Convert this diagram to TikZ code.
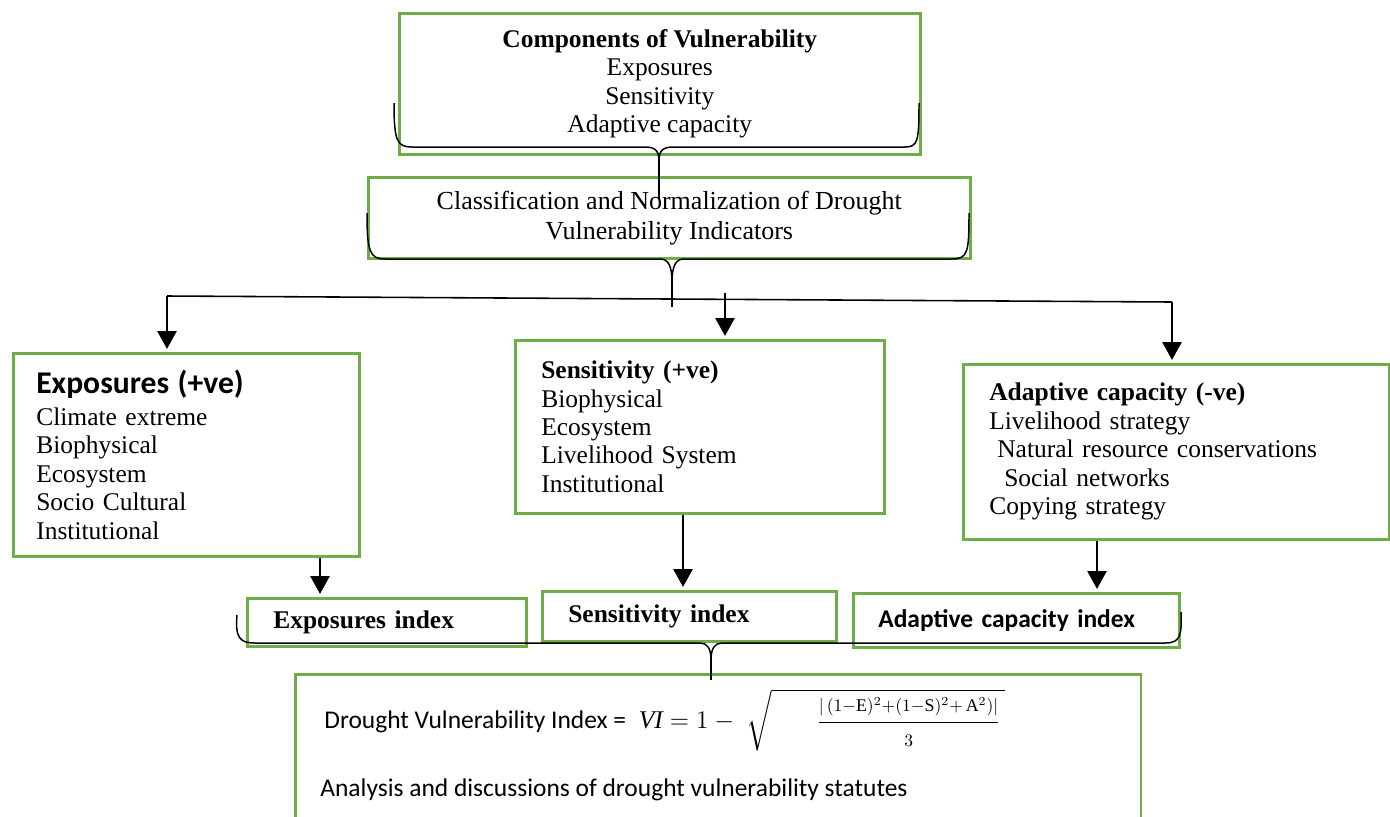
\documentclass[tikz,border=0pt]{standalone}
\usepackage{amsmath}
\usepackage{fontspec}
\setmainfont{Liberation Serif}
\newfontfamily\calibri{Carlito}
\usetikzlibrary{arrows.meta}
\definecolor{boxgreen}{RGB}{112,173,71}
\tikzset{
  box/.style={draw=boxgreen,line width=1.5pt,fill=white,inner sep=0pt,font=\fontsize{14.5}{16.2}\selectfont},
  listbox/.style={box,align=left,anchor=north west},
  brace/.style={line width=0.85pt},
  arrow/.style={-{Triangle[length=0.36cm,width=0.38cm]},line width=1.6pt,shorten >=0.06cm}
}

\begin{document}
\begin{tikzpicture}[x=0.02cm,y=-0.02cm]
\useasboundingbox (0,0) rectangle (1390,816);

% components and indicators
\node[box,anchor=north west,minimum width=10.42cm,minimum height=2.82cm,align=center] (comp) at (398,12)
  {\textbf{Components of Vulnerability}\\Exposures\\Sensitivity\\Adaptive capacity};
\node[box,anchor=north west,minimum width=12.04cm,minimum height=1.62cm,align=center,font=\fontsize{14.8}{17}\selectfont] (class) at (367,176)
  {Classification and Normalization of Drought\\Vulnerability Indicators};

% the three components
\node[listbox,minimum width=6.92cm,minimum height=4.06cm,text width=6.0cm] (expo) at (12,352)
  {{\calibri\bfseries\fontsize{18}{18}\selectfont Exposures (+ve)}\\[2pt]Climate extreme\\Biophysical\\Ecosystem\\Socio Cultural\\Institutional};
\node[listbox,minimum width=7.38cm,minimum height=3.46cm,text width=6.34cm] (sens) at (514,339)
  {\textbf{Sensitivity (+ve)}\\Biophysical\\Ecosystem\\Livelihood System\\Institutional};
\node[listbox,minimum width=8.52cm,minimum height=3.5cm,text width=7.48cm] (adapt) at (962,363)
  {\textbf{Adaptive capacity (-ve)}\\Livelihood strategy\\\hspace*{0.16cm}Natural resource conservations\\\hspace*{0.3cm}Social networks\\Copying strategy};

% indices
\node[listbox,minimum width=5.58cm,minimum height=0.96cm,text width=4.54cm] (eidx) at (246,597) {\textbf{Exposures index}};
\node[listbox,minimum width=5.88cm,minimum height=1.0cm,text width=4.84cm] (sidx) at (541,590) {\textbf{Sensitivity index}};
\node[listbox,minimum width=6.52cm,minimum height=1.08cm,text width=5.52cm] (aidx) at (852,592) {\calibri\bfseries Adaptive capacity index};

% vulnerability index
\node[box,anchor=north west,minimum width=16.92cm,minimum height=3.2cm] (vi) at (294,673) {};
\node[anchor=west,inner sep=0pt,font=\fontsize{14.5}{16.2}\selectfont] (vieq) at (324,720)
  {{\calibri Drought Vulnerability Index =}\enspace$\mathit{VI} = 1 -\;\sqrt{\hspace{0.9cm}\dfrac{\scriptstyle |\,(1-\mathrm{E})^{2}{+}(1-\mathrm{S})^{2}+\,\mathrm{A}^{2})|}{\scriptstyle 3}\,}$};
\node[anchor=west,inner sep=0pt,font=\fontsize{14.5}{16.2}\selectfont] (vitext) at (320,790)
  {\calibri Analysis and discussions of drought vulnerability statutes};

% braces
\draw[brace] (394,103) .. controls (394,141) and (397,147) .. (412,147) -- (645,147)
  .. controls (654,147) and (659,150) .. (659,160) .. controls (659,150) and (664,147) .. (673,147)
  -- (905,147) .. controls (918,147) and (919,141) .. (919,103);
\draw[brace] (367,213) .. controls (367,252) and (370,259) .. (385,259) -- (660,259)
  .. controls (668,259) and (672,265) .. (672,283) .. controls (672,265) and (676,259) .. (684,259)
  -- (952,259) .. controls (968,259) and (969,252) .. (969,213);
\draw[brace] (237,615) .. controls (235,638) and (240,643) .. (255,643) -- (700,643)
  .. controls (707,643) and (711,648) .. (711,660) .. controls (711,648) and (715,643) .. (722,643)
  -- (1165,643) .. controls (1180,643) and (1182,636) .. (1181,612);

\coordinate (ctip) at (659,156);
\coordinate (ktip) at (672,280);
\coordinate (itip) at (711,657);
\draw[brace,shorten >=-0.45cm] (ctip) -- (class.north -| ctip);
\draw[brace] (ktip) -- ++(0,27);
\draw[brace,shorten >=-0.14cm] (itip) -- (vi.north -| itip);

% distribution line
\coordinate (busL) at (167,296);
\coordinate (busM) at (725,293);
\coordinate (busR) at (1172,302);
\draw[line width=0.9pt] (busL) -- (busR);
\draw[arrow] (busL) -- (busL |- expo.north);
\draw[arrow] (busM) -- (busM |- sens.north);
\draw[arrow] (busR) -- (busR |- adapt.north);

% components to indices
\coordinate (ex) at (320,0);
\coordinate (sx) at (683,0);
\coordinate (ax) at (1097,0);
\draw[arrow] (expo.south -| ex) -- (eidx.north -| ex);
\draw[arrow] (sens.south -| sx) -- (sidx.north -| sx);
\draw[arrow] (adapt.south -| ax) -- (aidx.north -| ax);
\end{tikzpicture}
\end{document}
